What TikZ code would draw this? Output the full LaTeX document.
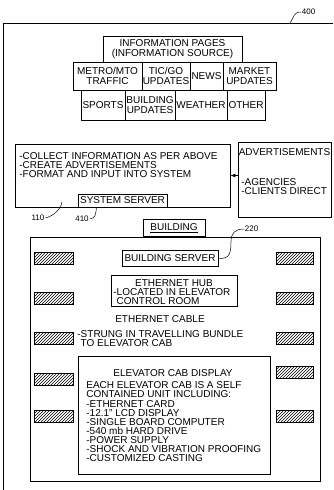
\documentclass[tikz,border=0pt]{standalone}
\usepackage{fontspec}
\setmainfont{Liberation Sans}
\usetikzlibrary{patterns,arrows.meta}

\begin{document}
\begin{tikzpicture}[x=1pt, y=-1pt, line width=0.8pt,
    font=\fontsize{10}{9}\selectfont,
    box/.style={draw, inner sep=0pt},
    cell/.style={draw, inner sep=0pt, align=center, font=\fontsize{10}{10}\selectfont},
    txt/.style={inner sep=0pt, align=left},
    hatch/.style={draw, line width=0.6pt, pattern=north east lines, minimum height=12pt, inner sep=0pt},
    refnum/.style={inner sep=0.5pt, font=\fontsize{8}{8}\selectfont}]
    \useasboundingbox (0,0) rectangle (333,490);

    % --- Outer frame 400 ---
    \draw (3,490) -- (3,23) -- (333,23);
    \coordinate (f400) at (290,23);
    \node[refnum, anchor=west] (l400) at (301,12) {400};
    \draw[line width=0.5pt] (f400) .. controls (294,18) and (293,12) .. (l400.west);

    % --- Information pages (information source) ---
    \node[cell, minimum width=139pt, minimum height=26pt] (infopages) at (172.5,49) {INFORMATION PAGES\\(INFORMATION SOURCE)};

    % --- First row of sources ---
    \node[cell, minimum width=69pt, minimum height=28pt] (metro) at (107.5,76) {METRO/MTO\\TRAFFIC};
    \node[cell, minimum width=48pt, minimum height=28pt] (ticgo) at (166,76) {TIC/GO\\UPDATES};
    \node[cell, minimum width=33pt, minimum height=28pt] (news) at (206.5,76) {NEWS};
    \node[cell, minimum width=53pt, minimum height=28pt] (market) at (249.5,76) {MARKET\\UPDATES};

    % --- Second row of sources ---
    \node[cell, minimum width=44pt, minimum height=30pt] (sports) at (103,105) {SPORTS};
    \node[cell, minimum width=50pt, minimum height=30pt] (bupdates) at (150,105) {BUILDING\\UPDATES};
    \node[cell, minimum width=52pt, minimum height=30pt] (weather) at (201,105) {WEATHER};
    \node[cell, minimum width=38pt, minimum height=30pt] (other) at (246,105) {OTHER};

    % --- System server (110, 410) ---
    \node[box, minimum width=215pt, minimum height=63pt] (collect) at (122.5,175.5) {};
    \node[txt, anchor=north west] (tasks) at (19,152) {-COLLECT INFORMATION AS PER ABOVE\\-CREATE ADVERTISEMENTS\\-FORMAT AND INPUT INTO SYSTEM};
    \node[box, minimum width=89pt, minimum height=13pt] (sysserver) at (122.5,200.5) {SYSTEM SERVER};

    % --- Advertisements ---
    \node[box, minimum width=93pt, minimum height=75pt] (ads) at (284.5,179.5) {};
    \node[txt] (adstitle) at (284.5,152) {ADVERTISEMENTS};
    \node[txt, anchor=north west] (adsources) at (241,178) {-AGENCIES\\-CLIENTS DIRECT};
    \draw[-{Latex[length=5pt,width=4pt]}] (ads.west |- collect.east) -- (collect.east);

    % --- Reference numerals 110 and 410 ---
    \node[refnum] (l110) at (38,218) {110};
    \coordinate (p110) at (62,202);
    \draw[line width=0.5pt] (l110.east) .. controls +(6,-1) and +(-1,8) .. (p110);
    \node[refnum] (l410) at (82,219) {410};
    \coordinate (p410) at ([xshift=-26pt]sysserver.south);
    \draw[line width=0.5pt] (l410.east) .. controls +(6,-1) and +(-1,8) .. (p410);

    % --- Building ---
    \node[box, minimum width=290pt, minimum height=244pt] (building) at (175,359) {};
    \node[box, minimum width=62pt, minimum height=17pt, anchor=south] (buildlabel) at (174,237) {\underline{BUILDING}};

    % --- Building server (220) ---
    \node[box, minimum width=96pt, minimum height=16pt] (bserver) at (170,258.5) {BUILDING SERVER};
    \node[refnum, anchor=west] (l220) at (244,229) {220};
    \draw[line width=0.5pt] (l220.west) .. controls (235,229) and (231,233) .. (231,242) .. controls (231,254) and (229,259) .. (bserver.east);

    % --- Ethernet hub ---
    \node[box, minimum width=126pt, minimum height=31pt] (hub) at (174,290.5) {};
    \node[txt] (hubtitle) at (174,283) {ETHERNET HUB};
    \node[txt, anchor=north west, font=\fontsize{10}{8.5}\selectfont] (hubnote) at (113,288.5) {-LOCATED IN ELEVATOR\\\hphantom{-}CONTROL ROOM};

    % --- Ethernet cable ---
    \node[txt] (cabletitle) at (160,319) {ETHERNET CABLE};
    \node[txt, anchor=north west] (cablenote) at (77,330.5) {-STRUNG IN TRAVELLING BUNDLE\\\hphantom{-}TO ELEVATOR CAB};

    % --- Elevator cab display ---
    \node[box, minimum width=192pt, minimum height=118pt] (cabdisplay) at (174,415) {};
    \node[txt] (cabtitle) at (173,373) {ELEVATOR CAB DISPLAY};
    \node[txt, anchor=north west, font=\fontsize{10}{9.1}\selectfont] (cablist) at (86,381.5) {EACH ELEVATOR CAB IS A SELF\\CONTAINED UNIT INCLUDING:\\-ETHERNET CARD\\-12.1" LCD DISPLAY\\-SINGLE BOARD COMPUTER\\-540 mb HARD DRIVE\\-POWER SUPPLY\\-SHOCK AND VIBRATION PROOFING\\-CUSTOMIZED CASTING};

    % --- Left-side hatched blocks ---
    \node[hatch, minimum width=39pt] (hl1) at (53.5,258) {};
    \node[hatch, minimum width=39pt] (hl2) at (53.5,298) {};
    \node[hatch, minimum width=39pt] (hl3) at (53.5,338) {};
    \node[hatch, minimum width=39pt] (hl4) at (53.5,379) {};
    \node[hatch, minimum width=39pt] (hl5) at (53.5,416) {};

    % --- Right-side hatched blocks ---
    \node[hatch, minimum width=37pt] (hr1) at (294.5,258) {};
    \node[hatch, minimum width=37pt] (hr2) at (294.5,298) {};
    \node[hatch, minimum width=37pt] (hr3) at (294.5,338) {};
    \node[hatch, minimum width=37pt] (hr4) at (294.5,372) {};
    \node[hatch, minimum width=37pt] (hr5) at (294.5,416) {};
\end{tikzpicture}
\end{document}
